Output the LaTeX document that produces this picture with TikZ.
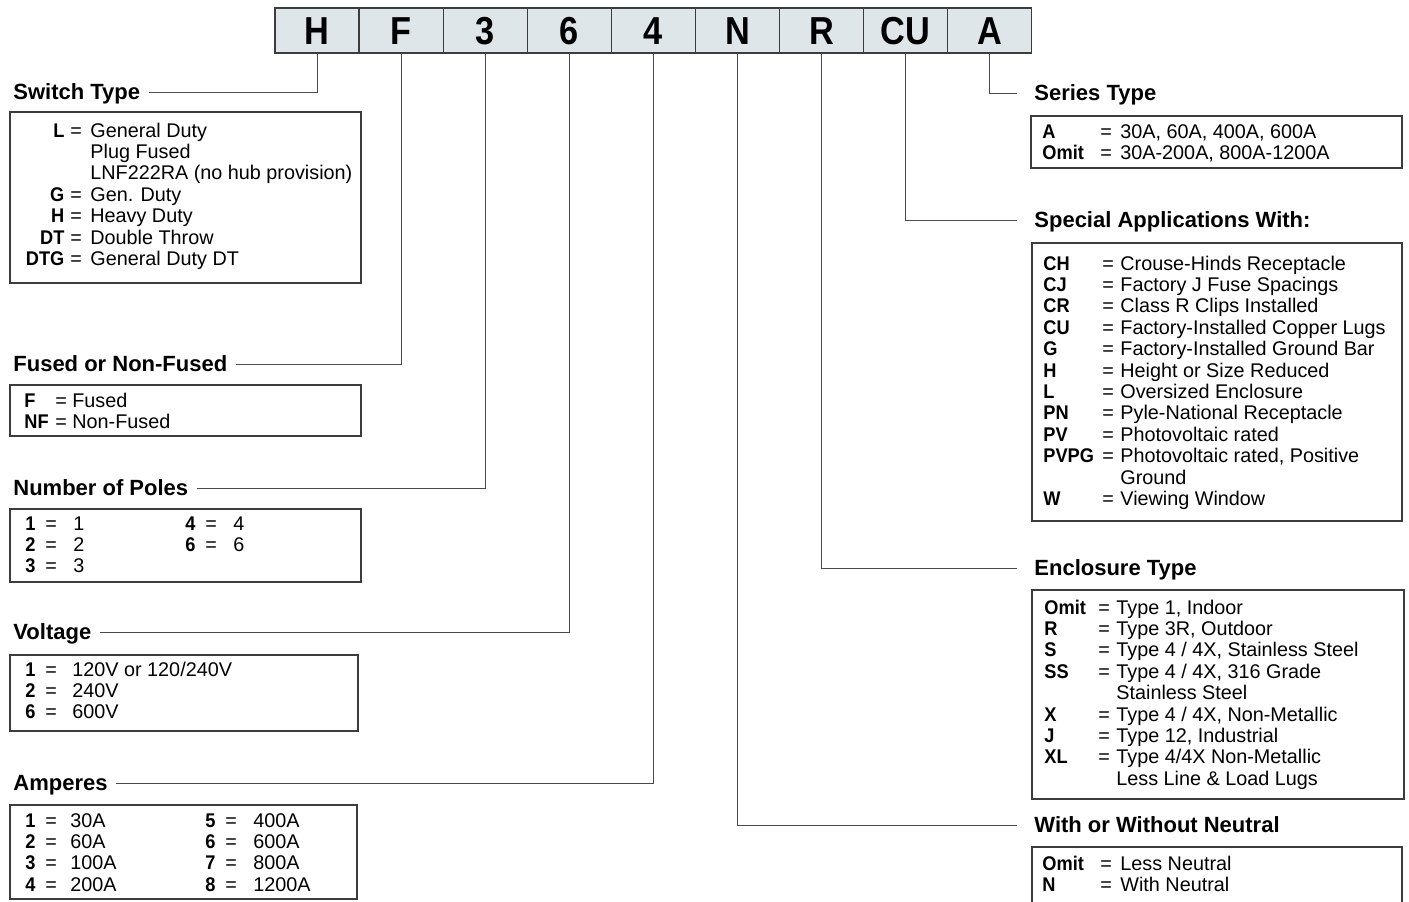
\documentclass[tikz,border=0pt]{standalone}
\usepackage{fontspec}
\setmainfont{Liberation Sans}
\newfontfamily\cellfont{Liberation Sans}[FakeStretch=0.88]
\newfontfamily\codefont{Liberation Sans}[FakeStretch=0.92]
\usepackage{array}
\usetikzlibrary{positioning}

\definecolor{cellfill}{HTML}{DFE6EA}
\definecolor{rulecol}{HTML}{3C3C3C}
\definecolor{wirecol}{HTML}{4A4A4A}

\newcolumntype{R}[1]{>{\codefont\bfseries\raggedleft\arraybackslash}p{#1}}
\newcolumntype{B}[1]{>{\codefont\bfseries\raggedright\arraybackslash}p{#1}}
\newcolumntype{P}[1]{>{\raggedright\arraybackslash}p{#1}}

\tikzset{
  cell/.style={draw=rulecol, fill=cellfill, line width=0.6pt, minimum width=42.05pt,
    minimum height=22.5pt, inner sep=0pt, outer sep=0pt, text height=14pt, text depth=0pt,
    font=\cellfont\bfseries\fontsize{19.5}{20}\selectfont},
  lhead/.style={anchor=west, inner xsep=4pt, inner ysep=0pt, text height=7.9pt, text depth=0pt,
    font=\bfseries\fontsize{11}{13}\selectfont},
  rhead/.style={lhead, inner xsep=8.5pt},
  codes/.style={anchor=base west, inner sep=0pt, font=\fontsize{9.9}{10.7}\selectfont},
  frame/.style={draw=rulecol, line width=0.65pt},
  wire/.style={draw=wirecol, line width=0.5pt}
}

\begin{document}
\begin{tikzpicture}[x=0.5pt,y=-0.5pt]
\useasboundingbox (0,0) rectangle (1409,901);

% catalog number cells
\node[cell] (cH) at (317,30.5) {H};
\node[cell, right=0pt of cH] (cF) {F};
\node[cell, right=0pt of cF] (c3) {3};
\node[cell, right=0pt of c3] (c6) {6};
\node[cell, right=0pt of c6] (c4) {4};
\node[cell, right=0pt of c4] (cN) {N};
\node[cell, right=0pt of cN] (cR) {R};
\node[cell, right=0pt of cR] (cCU) {CU};
\node[cell, right=0pt of cCU] (cA) {A};

% left headings
\node[lhead] (hSwitch) at (5,92) {Switch Type};
\node[lhead] (hFused) at (5,364) {Fused or Non-Fused};
\node[lhead] (hPoles) at (5,488) {Number of Poles};
\node[lhead] (hVolt) at (5,632) {Voltage};
\node[lhead] (hAmps) at (5,783) {Amperes};

% right headings
\node[rhead] (hSeries) at (1017,93) {Series Type};
\node[rhead] (hSpecial) at (1017,220) {Special Applications With:};
\node[rhead] (hEncl) at (1017,568) {Enclosure Type};
\node[rhead] (hNeutral) at (1017,825) {With or Without Neutral};

% connectors
\draw[wire] (cH.south) |- (hSwitch.east);
\draw[wire] (cF.south) |- (hFused.east);
\draw[wire] (c3.south) |- (hPoles.east);
\draw[wire] (c6.south) |- (hVolt.east);
\draw[wire] (c4.south) |- (hAmps.east);
\draw[wire] (cN.south) |- (hNeutral.west);
\draw[wire] (cR.south) |- (hEncl.west);
\draw[wire] (cCU.south) |- (hSpecial.west);
\draw[wire] (cA.south) |- (hSeries.west);

% frames
\draw[frame] (10,112) rectangle (361,283);
\draw[frame] (10,385) rectangle (361,436);
\draw[frame] (10,509) rectangle (361,582);
\draw[frame] (10,655) rectangle (358,731);
\draw[frame] (10,805) rectangle (357,899);
\draw[frame] (1031,116) rectangle (1402,168);
\draw[frame] (1032,243) rectangle (1402,521);
\draw[frame] (1032,590) rectangle (1404,799);
\draw[frame] (1032,920) -- (1032,847) -- (1402,847) -- (1402,920);

% code lists
\node[codes] (tSwitch) at (10,137) {\begin{tabular}[t]{@{}R{27pt}@{\hspace{3pt}}P{10pt}@{}l@{}}
L & = & General Duty\\
  &   & Plug Fused\\
  &   & LNF222RA (no hub provision)\\
G & = & Gen. Duty\\
H & = & Heavy Duty\\
DT & = & Double Throw\\
DTG & = & General Duty DT
\end{tabular}};
\node[codes] (tFused) at (24,407) {\begin{tabular}[t]{@{}B{15.5pt}@{}P{8.5pt}@{}l@{}}
F & = & Fused\\
NF & = & Non-Fused
\end{tabular}};
\node[codes] (tPoles) at (25,530) {\begin{tabular}[t]{@{}B{10pt}@{}P{14pt}@{}P{56pt}@{}B{10pt}@{}P{14pt}@{}l@{}}
1 & = & 1 & 4 & = & 4\\
2 & = & 2 & 6 & = & 6\\
3 & = & 3 & & &
\end{tabular}};
\node[codes] (tVolt) at (25,676) {\begin{tabular}[t]{@{}B{10pt}@{}P{13.5pt}@{}l@{}}
1 & = & 120V or 120/240V\\
2 & = & 240V\\
6 & = & 600V
\end{tabular}};
\node[codes] (tAmps) at (25,827) {\begin{tabular}[t]{@{}B{10pt}@{}P{12.5pt}@{}P{67.5pt}@{}B{10pt}@{}P{14pt}@{}l@{}}
1 & = & 30A & 5 & = & 400A\\
2 & = & 60A & 6 & = & 600A\\
3 & = & 100A & 7 & = & 800A\\
4 & = & 200A & 8 & = & 1200A
\end{tabular}};
\node[codes] (tSeries) at (1042,138) {\begin{tabular}[t]{@{}B{29pt}@{}P{10pt}@{}l@{}}
A & = & 30A, 60A, 400A, 600A\\
Omit & = & 30A-200A, 800A-1200A
\end{tabular}};
\node[codes] (tSpecial) at (1043,270) {\begin{tabular}[t]{@{}B{29.5pt}@{}P{9pt}@{}l@{}}
CH & = & Crouse-Hinds Receptacle\\
CJ & = & Factory J Fuse Spacings\\
CR & = & Class R Clips Installed\\
CU & = & Factory-Installed Copper Lugs\\
G & = & Factory-Installed Ground Bar\\
H & = & Height or Size Reduced\\
L & = & Oversized Enclosure\\
PN & = & Pyle-National Receptacle\\
PV & = & Photovoltaic rated\\
PVPG & = & Photovoltaic rated, Positive\\
 & & Ground\\
W & = & Viewing Window
\end{tabular}};
\node[codes] (tEncl) at (1044,614) {\begin{tabular}[t]{@{}B{27pt}@{}P{9pt}@{}l@{}}
Omit & = & Type 1, Indoor\\
R & = & Type 3R, Outdoor\\
S & = & Type 4 / 4X, Stainless Steel\\
SS & = & Type 4 / 4X, 316 Grade\\
 & & Stainless Steel\\
X & = & Type 4 / 4X, Non-Metallic\\
J & = & Type 12, Industrial\\
XL & = & Type 4/4X Non-Metallic\\
 & & Less Line \& Load Lugs
\end{tabular}};
\node[codes] (tNeutral) at (1042,870) {\begin{tabular}[t]{@{}B{29pt}@{}P{10pt}@{}l@{}}
Omit & = & Less Neutral\\
N & = & With Neutral
\end{tabular}};
\end{tikzpicture}
\end{document}
